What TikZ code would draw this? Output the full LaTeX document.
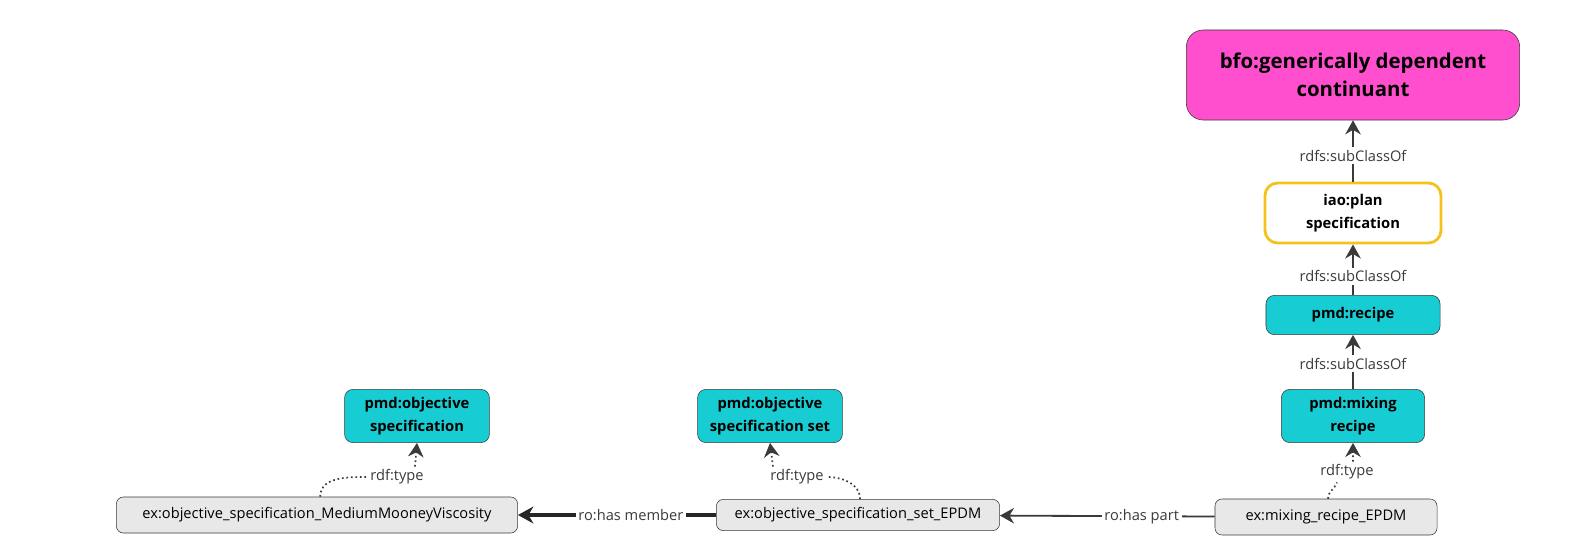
\documentclass[tikz,border=0pt]{standalone}
\usepackage{fontspec}
\setmainfont{Open Sans}
\usepackage{tikz}
\usetikzlibrary{positioning, arrows.meta}
\definecolor{clscyan}{HTML}{17CCD3}
\definecolor{topmagenta}{HTML}{FF4FCF}
\definecolor{planyellow}{HTML}{F5C21B}
\definecolor{indgray}{HTML}{E8E8E8}
\definecolor{edgegray}{HTML}{3A3A3A}

\begin{document}
\begin{tikzpicture}[x=0.025cm, y=-0.025cm, every node/.style={font=\fontsize{10.4}{12}\selectfont},
  cls/.style={draw=edgegray, fill=clscyan, rounded corners=6pt, align=center, inner sep=0pt,
    font=\fontsize{10.5}{16}\selectfont\bfseries},
  indiv/.style={draw=edgegray, fill=indgray, rounded corners=5pt, inner sep=0pt},
  lbl/.style={fill=white, inner sep=2pt, text=edgegray},
  sub/.style={draw=edgegray, line width=1.4pt, -{Stealth[length=10pt, width=11pt]}},
  typ/.style={draw=edgegray, line width=1.2pt, dotted, -{Stealth[length=10pt, width=11pt]}},
  typl/.style={draw=edgegray, line width=1.2pt, dotted}]
\useasboundingbox (0,0) rectangle (1573,548);
% Define the nodes
\node[cls, fill=topmagenta, rounded corners=12pt, minimum width=8.33cm, minimum height=2.25cm,
  font=\fontsize{14.5}{19.5}\selectfont\bfseries] (gdc) at (1353,75) {bfo:generically dependent\\continuant};
\node[cls, fill=white, draw=planyellow, line width=2pt, rounded corners=9pt, minimum width=4.4cm,
  minimum height=1.5cm] (plan) at (1353,213) {iao:plan\\specification};
\node[cls, minimum width=4.35cm, minimum height=0.98cm] (recipe) at (1353,315) {pmd:recipe};
\node[cls, minimum width=3.58cm, minimum height=1.33cm] (mixrecipe) at (1353,416) {pmd:mixing\\recipe};
\node[cls, minimum width=3.62cm, minimum height=1.33cm] (objspecset) at (770,416) {pmd:objective\\specification set};
\node[cls, minimum width=3.62cm, minimum height=1.33cm] (objspec) at (417,416) {pmd:objective\\specification};

\node[indiv, minimum width=5.55cm, minimum height=0.9cm] (mixepdm) at (1326,517) {ex:mixing\_recipe\_EPDM};
\node[indiv, minimum width=7.08cm, minimum height=0.78cm] (setepdm) at (858,515) {ex:objective\_specification\_set\_EPDM};
\node[indiv, minimum width=10.03cm, minimum height=0.9cm] (mmv) at (317,515) {ex:objective\_specification\_MediumMooneyViscosity};

% rdf:type labels
\node[lbl] (typemix) at (1347,472) {rdf:type};
\node[lbl] (typeset) at (797,477) {rdf:type};
\node[lbl] (typemmv) at (397,477) {rdf:type};

% Draw the maps
\draw[sub] (mixrecipe) -- node[lbl, pos=0.47] {rdfs:subClassOf} (recipe);
\draw[sub] (recipe) -- node[lbl, pos=0.37] {rdfs:subClassOf} (plan);
\draw[sub] (plan) -- node[lbl, pos=0.42] {rdfs:subClassOf} (gdc);

\draw[typl] ([xshift=0.05cm]mixepdm.north) to[out=90, in=-110] ([xshift=-0.25cm]typemix.south);
\draw[typ] ([xshift=0.15cm]typemix.north) -- (mixrecipe.south);
\draw[typl] ([xshift=0.05cm]setepdm.north) to[out=90, in=0] (typeset.east);
\draw[typ] ([xshift=-0.6cm]typeset.north) -- (objspecset.south);
\draw[typl] ([xshift=0.08cm]mmv.north) to[out=90, in=180] (typemmv.west);
\draw[typ] ([xshift=0.45cm]typemmv.north) -- (objspec.south);

\draw[draw=edgegray, line width=1.3pt, -{Stealth[length=10pt, width=11pt]}] (mixepdm) -- node[lbl, pos=0.34] {ro:has part} (setepdm);
\draw[draw=black!85, line width=2.4pt, -{Stealth[length=11pt, width=12pt]}] (setepdm) -- node[lbl, pos=0.43] {ro:has member} (mmv);
\end{tikzpicture}
\end{document}
